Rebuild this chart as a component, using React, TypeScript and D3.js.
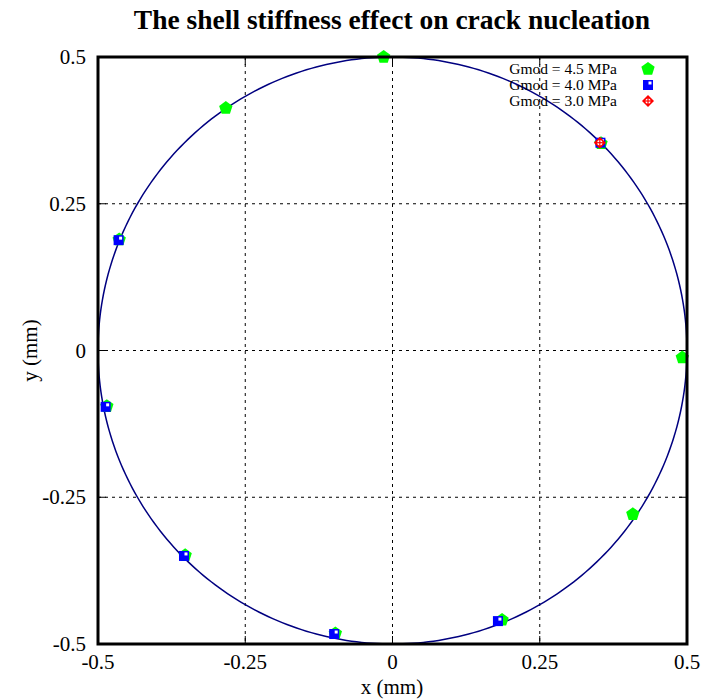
import React from "react";
import * as d3 from "d3";

// data
const ticks = [-0.5, -0.25, 0, 0.25, 0.5];
const tickLabels = ["-0.5", "-0.25", "0", "0.25", "0.5"];

const g45X = [-0.015, -0.283, 0.354, 0.492, 0.408, 0.186, -0.097, -0.352, -0.485, -0.464];
const g45Y = [0.5, 0.413, 0.353, -0.012, -0.279, -0.459, -0.482, -0.349, -0.095, 0.189];

const g40X = [0.353, -0.465, -0.487, -0.354, -0.099, 0.179];
const g40Y = [0.354, 0.188, -0.096, -0.35, -0.483, -0.461];

const g30X = [0.352];
const g30Y = [0.354];

const seriesNames = ["Gmod = 4.5 MPa", "Gmod = 4.0 MPa", "Gmod = 3.0 MPa"];

const W = 708;
const H = 700;
const left = 98, right = 687, top = 57, bottom = 644;

const Pentagon = ({ x, y }: { x: number; y: number }) => {
  const r = 7;
  const pts = d3.range(5).map((i) => {
    const a = -Math.PI / 2 + (i * 2 * Math.PI) / 5;
    return [x + r * Math.cos(a), y + r * Math.sin(a)].join(",");
  });
  return <polygon points={pts.join(" ")} fill="#00ff00" />;
};

const BlueBox = ({ x, y }: { x: number; y: number }) => (
  <g>
    <rect x={x - 5} y={y - 5} width={10} height={10} fill="#0000ff" />
    <rect x={x + 0.5} y={y - 3.5} width={3} height={3} fill="#ffffff" />
  </g>
);

const RedDiamond = ({ x, y }: { x: number; y: number }) => (
  <g>
    <path d={`M${x},${y - 6}L${x + 6},${y}L${x},${y + 6}L${x - 6},${y}Z`} fill="#ff0000" />
    <circle cx={x} cy={y} r={2.6} fill="#ffffff" />
    <line x1={x - 3} x2={x + 3} y1={y} y2={y} stroke="#ff0000" strokeWidth={1.2} />
    <line x1={x} x2={x} y1={y - 3} y2={y + 3} stroke="#ff0000" strokeWidth={1.2} />
  </g>
);

export default function App() {
  const x = d3.scaleLinear().domain([-0.5, 0.5]).range([left, right]);
  const y = d3.scaleLinear().domain([-0.5, 0.5]).range([bottom, top]);

  const circle = d3
    .line<number>()
    .x((t) => x(0.5 * Math.cos(t)))
    .y((t) => y(0.5 * Math.sin(t)));
  const angles = d3.range(0, 361).map((d) => (d * Math.PI) / 180);

  const font = "'Liberation Serif', 'Times New Roman', serif";
  const legendX = 617;
  const legendY = [69, 85, 101];
  const markX = 648;

  return (
    <svg
      width={W}
      height={H}
      style={{ position: "absolute", left: 0, top: 0, background: "#fff" }}
      fontFamily={font}
    >
      <text x={392} y={29} textAnchor="middle" fontSize={27.5} fontWeight="bold">
        The shell stiffness effect on crack nucleation
      </text>

      {/* grid */}
      {ticks.slice(1, -1).map((t) => (
        <g key={"g" + t}>
          <line x1={x(t)} x2={x(t)} y1={top} y2={bottom} stroke="#000" strokeWidth={1} strokeDasharray="3,4" />
          <line x1={left} x2={right} y1={y(t)} y2={y(t)} stroke="#000" strokeWidth={1} strokeDasharray="3,4" />
        </g>
      ))}

      {/* ticks on all sides */}
      {ticks.map((t) => (
        <g key={"t" + t} stroke="#000" strokeWidth={1}>
          <line x1={x(t)} x2={x(t)} y1={bottom} y2={bottom - 8} />
          <line x1={x(t)} x2={x(t)} y1={top} y2={top + 8} />
          <line x1={left} x2={left + 8} y1={y(t)} y2={y(t)} />
          <line x1={right} x2={right - 8} y1={y(t)} y2={y(t)} />
        </g>
      ))}

      <path d={circle(angles) || ""} fill="none" stroke="#000080" strokeWidth={1.5} />

      {g45X.map((v, i) => (
        <Pentagon key={"p" + i} x={x(v)} y={y(g45Y[i])} />
      ))}
      {g40X.map((v, i) => (
        <BlueBox key={"b" + i} x={x(v)} y={y(g40Y[i])} />
      ))}
      {g30X.map((v, i) => (
        <RedDiamond key={"r" + i} x={x(v)} y={y(g30Y[i])} />
      ))}

      {/* legend */}
      {seriesNames.map((s, i) => (
        <text key={s} x={legendX} y={legendY[i] + 5} textAnchor="end" fontSize={15.5}>
          {s}
        </text>
      ))}
      <Pentagon x={markX} y={legendY[0]} />
      <BlueBox x={markX} y={legendY[1]} />
      <RedDiamond x={markX} y={legendY[2]} />

      {/* frame */}
      <rect x={left} y={top} width={right - left} height={bottom - top} fill="none" stroke="#000" strokeWidth={3} />

      {ticks.map((t, i) => (
        <text key={"xl" + t} x={x(t)} y={bottom + 25} textAnchor="middle" fontSize={21}>
          {tickLabels[i]}
        </text>
      ))}
      {ticks.map((t, i) => (
        <text key={"yl" + t} x={left - 12} y={y(t) + 7} textAnchor="end" fontSize={21}>
          {tickLabels[i]}
        </text>
      ))}

      <text x={392} y={694} textAnchor="middle" fontSize={21}>
        x (mm)
      </text>
      <text transform={`translate(37,${(top + bottom) / 2}) rotate(-90)`} textAnchor="middle" fontSize={21}>
        y (mm)
      </text>
    </svg>
  );
}
